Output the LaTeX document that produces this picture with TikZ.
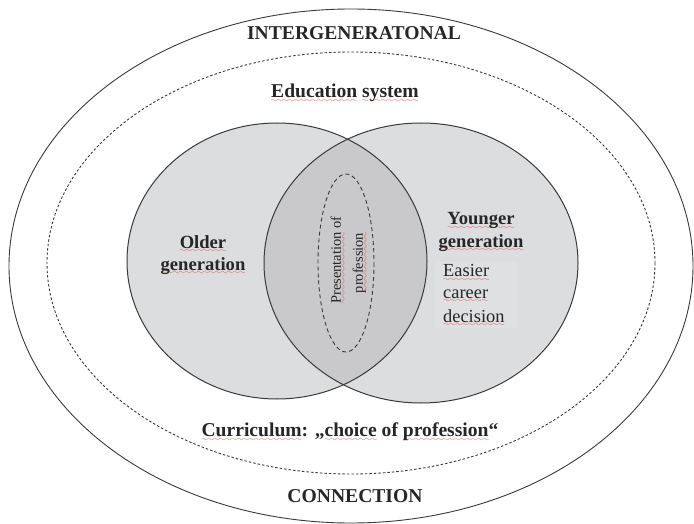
\documentclass[tikz,border=0pt]{standalone}
\usepackage{fontspec}
\setmainfont{Liberation Serif}
\usetikzlibrary{shapes.geometric}

\definecolor{ink}{HTML}{262626}
\definecolor{rim}{HTML}{3A3A3A}
\definecolor{lobe}{HTML}{DCDDDF}
\definecolor{lens}{HTML}{C9C9CB}
\definecolor{note}{HTML}{DFE0E2}
\definecolor{spell}{HTML}{E04040}

% red wavy spell-check mark under a word
\font\wavefont=lasy8
\newcommand\sq[1]{\leavevmode\setbox0\hbox{#1}%
  \rlap{\color{spell}\lower4.5pt\hbox to\wd0{\xleaders\hbox{\wavefont\char58}\hfil}}\box0\relax}

\begin{document}
\begin{tikzpicture}[x=1pt,y=-1pt,
  rimline/.style={draw=rim, line width=1pt},
  ringline/.style={draw=rim, line width=0.9pt},
  dotline/.style={draw=rim, line width=0.9pt, dash pattern=on 2.5pt off 2pt},
  coreline/.style={draw=rim, line width=0.9pt, dash pattern=on 4pt off 3pt},
  title/.style={text=ink, inner sep=0pt, font=\fontsize{19.6}{23}\selectfont\bfseries},
  heading/.style={text=ink, inner sep=0pt, font=\fontsize{18.6}{22}\selectfont\bfseries},
  plain/.style={text=ink, inner sep=0pt, font=\fontsize{18.4}{22}\selectfont},
  small/.style={text=ink, inner sep=0pt, font=\fontsize{14.5}{17}\selectfont, rotate=90},
]
\useasboundingbox (0,0) rectangle (694,524);

% centres of the ellipses
\coordinate (O) at (351,266);
\coordinate (E) at (351,263);
\coordinate (L) at (277,261);
\coordinate (R) at (421,263);
\coordinate (P) at (346,263);

% the two generations and their overlap
\fill[lobe] (L) ellipse[x radius=150, y radius=138];
\fill[lobe] (R) ellipse[x radius=157, y radius=140];
\begin{scope}
  \clip (L) ellipse[x radius=150, y radius=138];
  \fill[lens] (R) ellipse[x radius=157, y radius=140];
\end{scope}
\fill[note, rounded corners=3pt] (435,262) rectangle (518,328);
\draw[rimline] (L) ellipse[x radius=150, y radius=138];
\draw[rimline] (R) ellipse[x radius=157, y radius=140];
\draw[coreline] (P) ellipse[x radius=28, y radius=89];

% outer frames
\draw[ringline] (O) ellipse[x radius=342, y radius=257];
\draw[dotline] (E) ellipse[x radius=304, y radius=211];

% labels
\node[title] (inter) at (354,33) {INTERGENERATONAL};
\node[title] (edu) at (345,93) {\sq{Education} \sq{system}};
\node[heading] (old1) at (203,244) {\sq{Older}};
\node[heading] (old2) at (203,266) {\sq{generation}};
\node[heading] (young1) at (481,221) {\sq{Younger}};
\node[heading] (young2) at (481,243) {\sq{generation}};
\node[plain, anchor=west] (easy1) at (443,273) {\sq{Easier}};
\node[plain, anchor=west] (easy2) at (443,296) {\sq{career}};
\node[plain, anchor=west] (easy3) at (443,318) {\sq{decision}};
\node[small] (pres1) at (338,260) {\sq{Presentation} of};
\node[small] (pres2) at (360,263) {\sq{profession}};
\node[title] (curr) at (350,432) {\sq{Curriculum}: „\sq{choice} of \sq{profession}“};
\node[title] (conn) at (355,496) {CONNECTION};
\end{tikzpicture}
\end{document}
